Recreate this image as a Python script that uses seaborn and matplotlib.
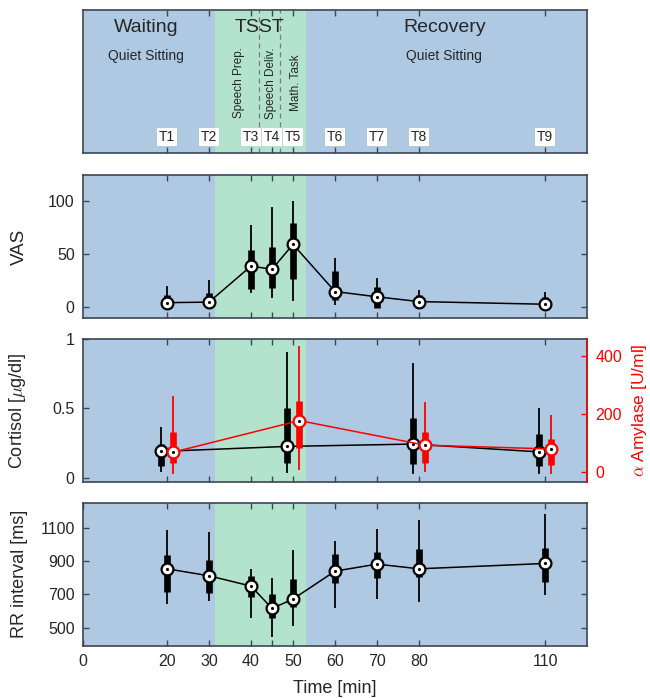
"""
Stress protocol figure: phase timeline, VAS, cortisol / alpha-amylase and RR interval
as median + IQR + range boxes over time.
"""

import numpy as np
import matplotlib.pyplot as plt
import seaborn as sns

# time points of the protocol
TIMES = [20, 30, 40, 45, 50, 60, 70, 80, 110]
T_LABELS = ['T1', 'T2', 'T3', 'T4', 'T5', 'T6', 'T7', 'T8', 'T9']

# VAS (median, quartiles, whisker ends)
VAS_MED = [4.5, 5.0, 39, 36, 59.5, 15, 10, 5.5, 3]
VAS_Q1 = [-1, -1, 17, 18.5, 27, 7, -1, -1, -1]
VAS_Q3 = [12, 14, 54, 57, 80, 34, 19, 12, 10]
VAS_LO = [-1, -1, 14, 9, 6.5, 2, -1, -1, -1]
VAS_HI = [20, 25.5, 77.5, 94.5, 100.5, 47, 28, 16.5, 15]

# cortisol [ug/dl] and alpha amylase [U/ml], sampled at four time points
SALIVA_TIMES = [20, 50, 80, 110]
CORT_MED = [0.19, 0.226, 0.243, 0.187]
CORT_Q1 = [0.087, 0.108, 0.096, 0.087]
CORT_Q3 = [0.24, 0.505, 0.428, 0.313]
CORT_LO = [0.043, 0.036, 0.024, 0.024]
CORT_HI = [0.363, 0.904, 0.825, 0.50]

AMY_MED = [68, 177, 92, 79]
AMY_Q1 = [29, 83, 30, 23]
AMY_Q3 = [139, 243, 137, 112]
AMY_LO = [-9, 6, -2, -8]
AMY_HI = [261, 434, 240, 197]

# RR interval [ms]
RR_MED = [854, 812, 750, 616, 672, 840, 882, 854, 886]
RR_Q1 = [714, 708, 682, 558, 626, 768, 798, 804, 774]
RR_Q3 = [938, 904, 812, 700, 790, 942, 952, 972, 978]
RR_LO = [644, 658, 558, 444, 508, 620, 670, 656, 698]
RR_HI = [1086, 1074, 854, 800, 966, 1018, 1092, 1148, 1182]

BLUE = '#b0c9e3'
GREEN = '#b3e3cd'
SPINE = '#3a4656'
RED = '#ff0000'
TSST_SPAN = (31.5, 53)

sns.set_style('ticks')
plt.rcParams['font.family'] = ['Liberation Sans', 'DejaVu Sans']
plt.rcParams['mathtext.fontset'] = 'cm'


def style_panel(ax):
    ax.set_facecolor(BLUE)
    ax.axvspan(*TSST_SPAN, color=GREEN, lw=0, zorder=0)
    ax.set_xlim(0, 120)
    ax.set_xticks(TIMES)
    ax.set_xticklabels([])
    for s in ax.spines.values():
        s.set_color(SPINE)
        s.set_linewidth(1.2)
    ax.tick_params(direction='in', length=4, width=1, color=SPINE,
                   top=True, right=True, labelsize=11.5, pad=6)


def draw_boxes(ax, x, lo, q1, med, q3, hi, color):
    x = np.asarray(x, dtype=float)
    ax.vlines(x, lo, hi, color=color, lw=1.3, capstyle='butt', zorder=2)
    ax.vlines(x, q1, q3, color=color, lw=4.8, capstyle='butt', zorder=2)
    sns.lineplot(x=x, y=med, color=color, lw=1.1, marker='o', ms=8.5,
                 mfc='white', mec=color, mew=1.6, ax=ax, zorder=3)
    sns.scatterplot(x=x, y=med, color='k', s=5, lw=0, ax=ax, zorder=4)


def main():
    fig = plt.figure(figsize=(6.5, 6.98), dpi=100)
    left, width, height = 0.1277, 0.7754, 0.2049
    ax_top = fig.add_axes([left, 0.7808, width, height])
    ax_vas = fig.add_axes([left, 0.5444, width, height])
    ax_cort = fig.add_axes([left, 0.3095, width, height])
    ax_rr = fig.add_axes([left, 0.0749, width, height])

    # phase timeline
    style_panel(ax_top)
    ax_top.set_ylim(0, 1)
    ax_top.set_yticks([])
    for xd in (42, 47):
        ax_top.axvline(xd, color='#7a7a7a', lw=0.9, ls=(0, (4, 3)), zorder=1)
    ax_top.text(15, 0.88, 'Waiting', ha='center', va='center', fontsize=14)
    ax_top.text(42, 0.88, 'TSST', ha='center', va='center', fontsize=14)
    ax_top.text(86, 0.88, 'Recovery', ha='center', va='center', fontsize=14)
    ax_top.text(15, 0.675, 'Quiet Sitting', ha='center', va='center', fontsize=10)
    ax_top.text(86, 0.675, 'Quiet Sitting', ha='center', va='center', fontsize=10)
    for xp, lab in zip([37.2, 44.7, 50.7], ['Speech Prep.', 'Speech Deliv.', 'Math. Task']):
        ax_top.text(xp, 0.49, lab, rotation=90, ha='center', va='center', fontsize=8.5)
    for t, lab in zip(TIMES, T_LABELS):
        ax_top.text(t, 0.114, lab, ha='center', va='center', fontsize=10,
                    bbox=dict(facecolor='white', edgecolor='none', pad=1.5))

    # VAS
    style_panel(ax_vas)
    draw_boxes(ax_vas, TIMES, VAS_LO, VAS_Q1, VAS_MED, VAS_Q3, VAS_HI, 'k')
    ax_vas.set_ylim(-10, 125)
    ax_vas.set_yticks([0, 50, 100])
    ax_vas.set_ylabel('VAS', fontsize=13.5)

    # cortisol + amylase
    style_panel(ax_cort)
    ax_cort.tick_params(right=False)
    ax_amy = ax_cort.twinx()
    draw_boxes(ax_cort, np.array(SALIVA_TIMES) - 1.5, CORT_LO, CORT_Q1, CORT_MED,
               CORT_Q3, CORT_HI, 'k')
    draw_boxes(ax_amy, np.array(SALIVA_TIMES) + 1.5, AMY_LO, AMY_Q1, AMY_MED,
               AMY_Q3, AMY_HI, RED)
    ax_cort.set_ylim(-0.03, 1.0)
    ax_cort.set_yticks([0, 0.5, 1])
    ax_cort.set_yticklabels(['0', '0.5', '1'])
    ax_cort.set_ylabel(r'Cortisol [$\mu$g/dl]', fontsize=13)
    ax_amy.set_ylim(-35, 459)
    ax_amy.set_yticks([0, 200, 400])
    ax_amy.set_xlim(0, 120)
    for name, s in ax_amy.spines.items():
        s.set_visible(name == 'right')
    ax_amy.spines['right'].set_color(RED)
    ax_amy.spines['right'].set_linewidth(1.2)
    ax_amy.tick_params(axis='y', direction='in', length=4, width=1, colors=RED,
                       labelsize=11.5, pad=6)
    ax_amy.set_ylabel(r'$\alpha$ Amylase [U/ml]', fontsize=12.5, color=RED)

    # RR interval
    style_panel(ax_rr)
    draw_boxes(ax_rr, TIMES, RR_LO, RR_Q1, RR_MED, RR_Q3, RR_HI, 'k')
    ax_rr.set_ylim(392, 1251)
    ax_rr.set_yticks([500, 700, 900, 1100])
    ax_rr.set_ylabel('RR interval [ms]', fontsize=13)
    ax_rr.set_xticks([0] + TIMES)
    ax_rr.set_xticklabels(['0'] + [str(t) if t != 45 else '' for t in TIMES])
    ax_rr.set_xlabel('Time [min]', fontsize=13, labelpad=8)

    for ax in (ax_vas, ax_cort, ax_rr):
        ax.yaxis.set_label_coords(-0.11, 0.5)
    ax_amy.yaxis.set_label_coords(1.085, 0.5)

    fig.savefig('out.png', dpi=100)


if __name__ == '__main__':
    main()
